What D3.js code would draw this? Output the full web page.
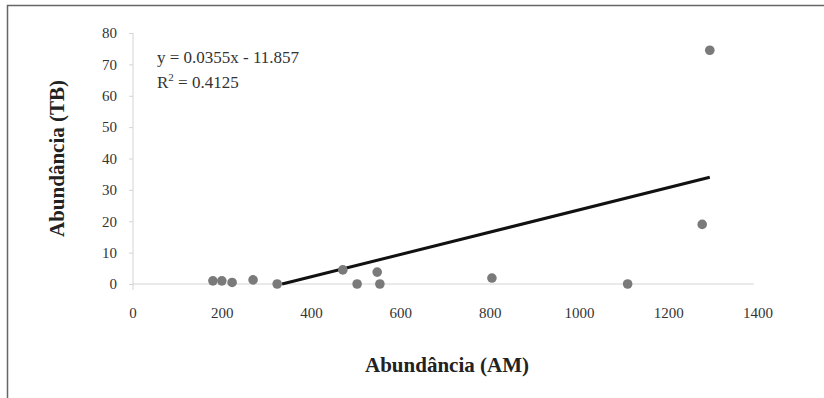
<!DOCTYPE html>
<html>
<head>
<meta charset="utf-8">
<script src="https://cdn.jsdelivr.net/npm/d3@7.9.0/dist/d3.min.js"></script>
<style>
  html, body { margin: 0; padding: 0; background: #fff; }
  svg text { font-family: "Liberation Serif", "Times New Roman", serif; }
</style>
</head>
<body>
<svg id="chart" width="824" height="398"></svg>
<script>
// --- data
const amValues = [179, 199, 222, 269, 323, 470, 502, 547, 553, 804, 1108, 1275, 1292];
const tbValues = [1, 1, 0.5, 1.3, 0, 4.5, 0, 3.8, 0, 1.9, 0, 19, 74.5];
const xTicks = [0, 200, 400, 600, 800, 1000, 1200, 1400];
const yTicks = [0, 10, 20, 30, 40, 50, 60, 70, 80];
const slope = 0.0355, intercept = -11.857;
const eqLabel = 'y = 0.0355x - 11.857';
const r2Value = '0.4125';

const svg = d3.select('#chart');

// frame round the figure
svg.append('rect')
  .attr('x', 7.5).attr('y', 5.5).attr('width', 840).attr('height', 420)
  .attr('fill', 'none').attr('stroke', '#666').attr('stroke-width', 1.5);

const x = d3.scaleLinear().domain([0, 1400]).range([133, 758]);
const y = d3.scaleLinear().domain([0, 80]).range([284, 33]);

// y axis (light, Excel style)
const gy = svg.append('g').attr('class', 'y-axis').attr('transform', `translate(${x(0)},0)`)
  .call(d3.axisLeft(y).tickValues(yTicks).tickFormat(d3.format('d')).tickSize(4).tickPadding(12));
gy.selectAll('path, line').attr('stroke', '#d4d4d4');
gy.selectAll('text').attr('fill', '#333').attr('font-size', 15);
gy.select('.domain').attr('d', `M0,${y(80)}V${y(0) + 6}`);

// zero line along the x axis
svg.append('line')
  .attr('x1', x(0)).attr('x2', x(1390)).attr('y1', y(0)).attr('y2', y(0))
  .attr('stroke', '#d4d4d4');

// trend line: from where it crosses 0 up to the largest AM value
const x0 = -intercept / slope;
const x1 = d3.max(amValues);
svg.append('path')
  .datum([x0, x1])
  .attr('d', d3.line().x(d => x(d)).y(d => y(slope * d + intercept)))
  .attr('stroke', '#111').attr('stroke-width', 3).attr('fill', 'none');

// points
svg.append('g').attr('class', 'points').selectAll('circle')
  .data(amValues.map((v, i) => [v, tbValues[i]]))
  .join('circle')
  .attr('cx', d => x(d[0])).attr('cy', d => y(d[1]))
  .attr('r', 4.8).attr('fill', '#7a7a7a');

// equation text
svg.append('text').attr('x', 157).attr('y', 63)
  .attr('font-size', 17).attr('fill', '#333').text(eqLabel);
const r2 = svg.append('text').attr('x', 157).attr('y', 88)
  .attr('font-size', 17).attr('fill', '#333');
r2.append('tspan').text('R');
r2.append('tspan').attr('dy', -7).attr('font-size', 11).text('2');
r2.append('tspan').attr('dy', 7).text(' = ' + r2Value);

// axis titles
svg.append('text')
  .attr('transform', `translate(64,${(y(0) + y(80)) / 2}) rotate(-90)`)
  .attr('text-anchor', 'middle').attr('font-weight', 'bold').attr('font-size', 21)
  .attr('fill', '#222').text('Abundância (TB)');
svg.append('text')
  .attr('x', 447).attr('y', 372)
  .attr('text-anchor', 'middle').attr('font-weight', 'bold').attr('font-size', 21)
  .attr('fill', '#222').text('Abundância (AM)');

// x tick labels, drawn last so nothing sits over them
svg.append('g').attr('class', 'x-labels').selectAll('text')
  .data(xTicks)
  .join('text')
  .attr('x', d => x(d)).attr('y', y(0) + 34)
  .attr('text-anchor', 'middle').attr('font-size', 15).attr('fill', '#333')
  .text(d => d.toFixed(0));
</script>
</body>
</html>
